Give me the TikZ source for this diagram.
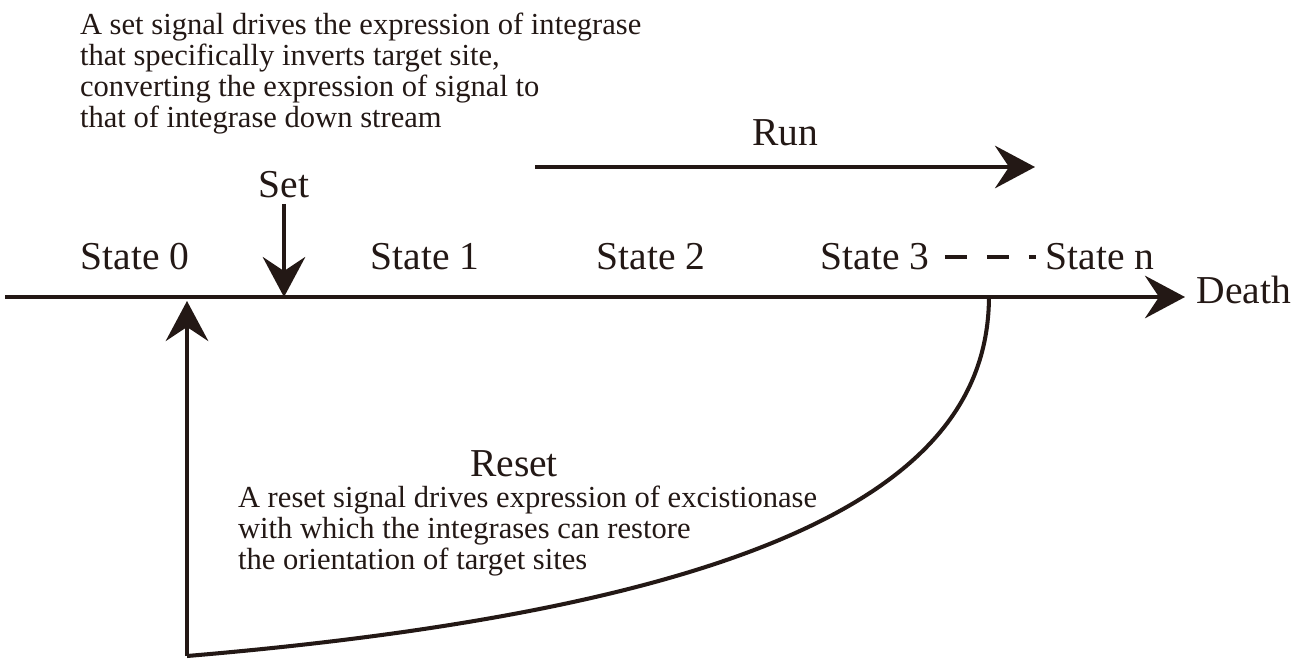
\documentclass[tikz,border=0pt]{standalone}
\usepackage{fontspec}
\setmainfont{Liberation Serif}
\usetikzlibrary{arrows.meta,positioning}
\definecolor{ink}{HTML}{231815}

\begin{document}
\begin{tikzpicture}[ink, line width=2.3pt,
        arr/.style={-{Stealth[length=0.8cm, width=0.85cm, inset=0.28cm]}},
        big/.style={font=\fontsize{22.5}{24}\selectfont, inner sep=2pt},
        note/.style={font=\fontsize{17.4}{17.6}\selectfont, align=left, inner sep=0pt}]
        \useasboundingbox (0,0) rectangle (26.08,-13.18);

        % labels
        \node[note, anchor=north west] (setnote) at (1.56,-0.22) {A set signal drives the expression of integrase\\that specifically inverts target site,\\converting the expression of signal to\\that of integrase down stream};
        \node[big] (run) at (15.7,-2.66) {Run};
        \node[big] (set) at (5.68,-3.7) {Set};

        \node[big] (s0) at (2.7,-5.14) {State 0};
        \node[big] (s1) at (8.5,-5.14) {State 1};
        \node[big] (s2) at (13.02,-5.14) {State 2};
        \node[big] (s3) at (17.5,-5.14) {State 3};
        \node[big] (sn) at (22.0,-5.14) {State n};
        \node[big, anchor=west] (death) at (23.82,-5.8) {Death};

        \node[big, inner sep=0pt] (reset) at (10.28,-9.28) {Reset};
        \node[note, anchor=north west] (resetnote) at (4.72,-9.68) {A reset signal drives expression of excistionase\\with which the integrases can restore\\the orientation of target sites};

        % points on the line
        \coordinate (start) at (0.1,-5.94);
        \coordinate (end) at (23.7,-5.94);
        \coordinate (setpt) at (5.68,-5.94);
        \coordinate (zero) at (3.74,-6.02);
        \coordinate (back) at (19.78,-5.94);
        \coordinate (low) at (3.74,-13.12);
        \coordinate (runa) at (10.7,-3.34);
        \coordinate (runb) at (20.7,-3.34);

        \draw[arr] (start) -- (end);
        \draw[arr] (set) -- (setpt);
        \draw[arr] (runa) -- (runb);
        \draw[dash pattern=on 0.44cm off 0.4cm, shorten <=0.2cm, shorten >=0.08cm] (s3) -- (sn);
        \draw[arr] (low) -- (zero);
        \draw (back) .. controls (19.76,-9.0) and (17.0,-12.0) .. (low);
    \end{tikzpicture}
\end{document}
